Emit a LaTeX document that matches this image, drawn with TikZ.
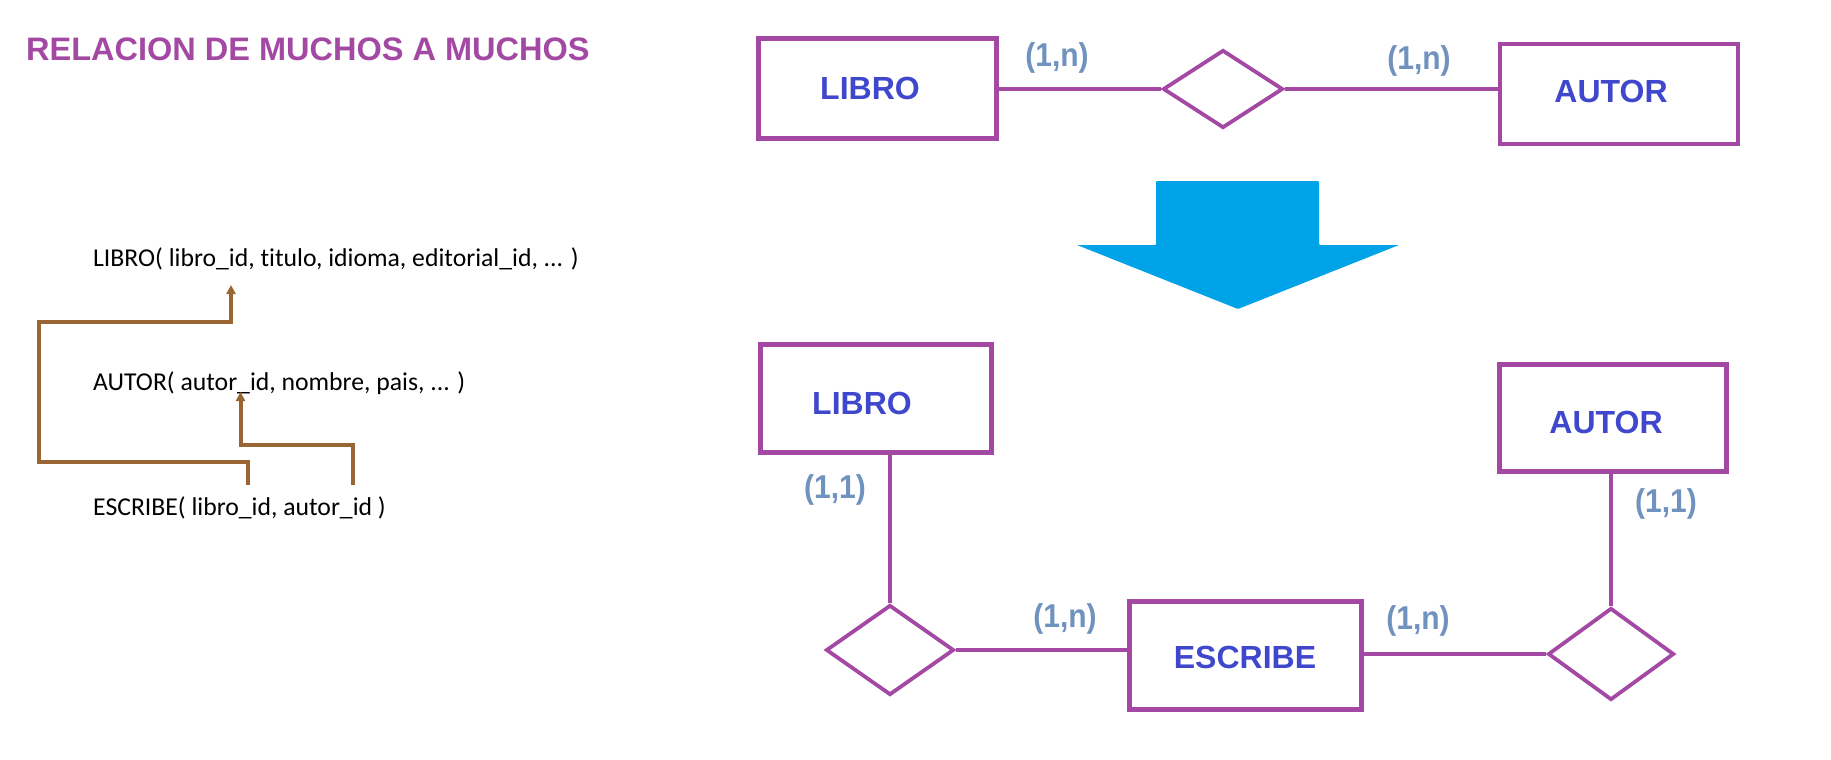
\documentclass[tikz,border=0pt]{standalone}
\usepackage{fontspec}
\setmainfont{Liberation Sans}
\newfontfamily\calib[Ligatures={NoCommon}]{Carlito}
\usetikzlibrary{shapes.geometric,arrows.meta}
\definecolor{erpurple}{RGB}{163,73,164}
\definecolor{erblue}{RGB}{63,72,204}
\definecolor{ercard}{RGB}{112,146,190}
\definecolor{erarrow}{RGB}{0,162,232}
\definecolor{fkbrown}{RGB}{153,102,51}
\begin{document}
\begin{tikzpicture}[x=1pt,y=-1pt,
  entity/.style={draw=erpurple,line width=4.5pt,rectangle,inner sep=0pt},
  rel/.style={draw=erpurple,line width=3.8pt,diamond,inner sep=0pt},
  link/.style={draw=erpurple,line width=4pt},
  elabel/.style={font=\fontsize{32}{36}\selectfont\bfseries,text=erblue,inner sep=0pt},
  card/.style={font=\fontsize{30}{34}\selectfont\bfseries,text=ercard,inner sep=0pt,yscale=1.1},
  reltext/.style={font=\calib\fontsize{25.7}{30}\selectfont,anchor=west,inner sep=0pt},
  fk/.style={draw=fkbrown,line width=4pt,-{Triangle[width=9pt,length=9pt]}}]
\useasboundingbox (0,0) rectangle (1831,760);
% title
\node[anchor=west,inner sep=0pt,text=erpurple,font=\fontsize{32.5}{36}\selectfont\bfseries] (title) at (26,49) {RELACION DE MUCHOS A MUCHOS};
% relational text
\node[reltext] (tlibro) at (93,259) {LIBRO( libro\_id, titulo, idioma, editorial\_id, ... )};
\node[reltext] (tautor) at (93,383) {AUTOR( autor\_id, nombre, pais, ... )};
\node[reltext] (tescribe) at (93,508) {ESCRIBE( libro\_id, autor\_id )};
\coordinate (s1) at (247.5,485);
\coordinate (t1) at (231,285);
\coordinate (s2) at (352.6,485);
\coordinate (t2) at (240.5,392);
\draw[fk] (s1) |- (38.5,462) |- (231,322) -- (t1);
\draw[fk] (s2) |- (240.5,445) -- (t2);
% top ER
\node[entity,minimum width=238pt,minimum height=100pt] (libro1) at (877.5,88.5) {};
\node[elabel] at (870,88) {LIBRO};
\node[entity,minimum width=238pt,minimum height=100pt] (autor1) at (1619,94) {};
\node[elabel] at (1611,91) {AUTOR};
\node[rel,minimum width=120pt,minimum height=78pt] (d1) at (1223,89) {};
\draw[link] (libro1.east |- d1.west) -- (d1.west);
\draw[link] (d1.east) -- (d1.east -| autor1.west);
\node[card] (c1) at (1057,58) {(1,n)};
\node[card] (c2) at (1419,61) {(1,n)};
% big arrow
\fill[erarrow,rounded corners=1pt] (1156,181) -- (1319,181) -- (1319,245) -- (1399,245) -- (1238,309) -- (1077,245) -- (1156,245) -- cycle;
% bottom ER
\node[entity,minimum width=231pt,minimum height=108pt] (libro2) at (876,398.5) {};
\node[elabel] at (862,403) {LIBRO};
\node[entity,minimum width=227pt,minimum height=107pt] (autor2) at (1613,418) {};
\node[elabel] at (1606,422) {AUTOR};
\node[entity,minimum width=232pt,minimum height=108pt] (escribe) at (1245.5,655.5) {};
\node[elabel] at (1245,657) {ESCRIBE};
\node[rel,minimum width=128pt,minimum height=90pt] (d2) at (890,650) {};
\node[rel,minimum width=126pt,minimum height=92pt] (d3) at (1611,654) {};
\draw[link] (d2.north |- libro2.south) -- (d2.north);
\draw[link] (d3.north |- autor2.south) -- (d3.north);
\draw[link] (d2.east) -- (d2.east -| escribe.west);
\draw[link] (d3.west -| escribe.east) -- (d3.west);
\node[card] (c3) at (835,490) {(1,1)};
\node[card] (c4) at (1666,504) {(1,1)};
\node[card] (c5) at (1065,619) {(1,n)};
\node[card] (c6) at (1418,621) {(1,n)};
\end{tikzpicture}
\end{document}
